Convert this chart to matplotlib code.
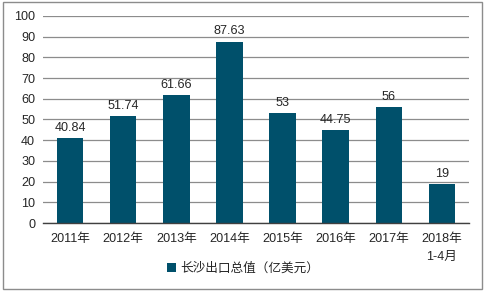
import matplotlib
matplotlib.use("Agg")
import matplotlib.pyplot as plt
from matplotlib.patches import Rectangle

categories = ["2011年", "2012年", "2013年", "2014年", "2015年", "2016年", "2017年", "2018年\n1-4月"]
values = [40.84, 51.74, 61.66, 87.63, 53, 44.75, 56, 19]
labels = ["40.84", "51.74", "61.66", "87.63", "53", "44.75", "56", "19"]
series_name = "长沙出口总值（亿美元）"

plt.rcParams['font.family'] = ['Liberation Sans', 'Noto Sans CJK SC']
color = "#00506b"
fs = 9.1

fig = plt.figure(figsize=(4.86, 2.96), dpi=100)
ax = fig.add_axes([0.0895, 0.2466, 0.8745, 0.6994])
x = list(range(len(categories)))
bars = ax.bar(x, values, width=0.5, color=color, label=series_name, zorder=3)
for xi, v, t in zip(x, values, labels):
    ax.text(xi, v + 2, t, ha="center", va="bottom", fontsize=fs, color="#262626", zorder=4)

ax.set_ylim(0, 100)
ax.set_yticks(range(0, 101, 10))
ax.set_xlim(-0.5, len(categories) - 0.5)
ax.set_xticks(x)
ax.set_xticklabels(categories, fontsize=fs, color="#262626", linespacing=1.7)
ax.tick_params(axis="y", labelsize=fs, colors="#262626", length=0, pad=6)
ax.tick_params(axis="x", length=0, pad=7)
ax.yaxis.grid(True, color="#8c8c8c", linewidth=0.9, zorder=0)
for s in ["left", "right", "top"]:
    ax.spines[s].set_visible(False)
ax.spines["bottom"].set_color("#404040")
ax.spines["bottom"].set_linewidth(1.0)
ax.spines["bottom"].set_zorder(5)

leg = fig.legend(handles=[bars], labels=[series_name], loc="center", bbox_to_anchor=(0.5, 0.093),
                 frameon=False, fontsize=fs, handlelength=0.75, handleheight=0.75, handletextpad=0.3)
for t in leg.get_texts():
    t.set_color("#262626")

fig.patches.append(Rectangle((3/486, 1 - 289/296), 479/486, 287/296, transform=fig.transFigure,
                             fill=False, edgecolor="#8c8c8c", linewidth=1.0))

fig.savefig("out.png", dpi=100)
